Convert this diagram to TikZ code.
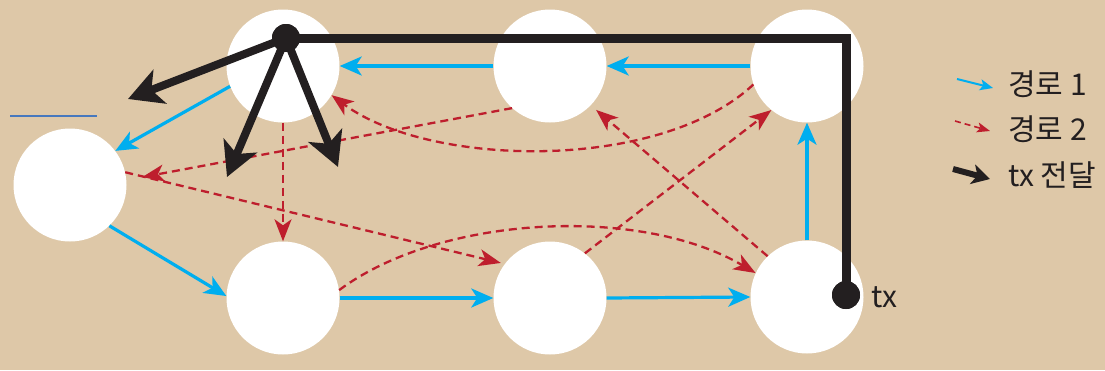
\documentclass[tikz,border=0pt]{standalone}
\usepackage{fontspec}
\newfontfamily\kr{Noto Sans CJK KR}
\usetikzlibrary{arrows.meta}
\definecolor{bg}{RGB}{222,200,168}
\definecolor{pblue}{RGB}{0,174,239}
\definecolor{pred}{RGB}{190,30,45}
\definecolor{pblack}{RGB}{35,31,32}
\definecolor{thinblue}{RGB}{70,120,190}
\begin{document}
\begin{tikzpicture}[x=1pt,y=-1pt,
 station/.style={circle,fill=white,minimum size=113pt,inner sep=0pt},
 path1/.style={pblue,line width=3.2pt,-{Stealth[inset=6pt,length=22pt,width=19pt]}},
 path2/.style={pred,line width=2.3pt,dash pattern=on 8pt off 5pt,-{Stealth[inset=6pt,length=22pt,width=17pt]}},
 txline/.style={pblack,line width=9pt},
 txarrow/.style={pblack,line width=8pt,-{Stealth[inset=9pt,length=34pt,width=36pt]}},
 dot/.style={circle,fill=pblack,minimum size=28pt,inner sep=0pt},
 lbl/.style={font=\kr\fontsize{30}{32}\selectfont,text=pblack,anchor=base west,inner sep=0pt},
 leg1/.style={pblue,line width=2pt,-{Stealth[inset=3pt,length=13pt,width=11pt]}},
 leg2/.style={pred,line width=1.6pt,dash pattern=on 6pt off 4pt,-{Stealth[inset=3pt,length=13pt,width=10pt]}},
 leg3/.style={pblack,line width=6pt,-{Stealth[inset=5pt,length=18pt,width=20pt]}}]
\fill[bg] (0,0) rectangle (1105,370);
\useasboundingbox (0,0) rectangle (1105,370);
% stations
\node[station] (A) at (70,185) {};
\node[station] (B) at (283,66) {};
\node[station] (C) at (550,66) {};
\node[station] (D) at (807,66) {};
\node[station] (E) at (283,298) {};
\node[station] (F) at (550,298) {};
\node[station] (G) at (807,297) {};
% stray thin line
\coordinate (s1) at (10,116);
\coordinate (s2) at (97,116);
\draw[thinblue,line width=1.3pt] (s1) -- (s2);
% path 1
\draw[path1] (G.90) -- (D.270);
\draw[path1] (D.180) -- (C.0);
\draw[path1] (C.180) -- (B.0);
\draw[path1] (B.201) -- (A.37);
\draw[path1] (A.-46) -- (E.178);
\draw[path1] (E.0) -- (F.180);
\draw[path1] (F.0) -- (G.180);
% path 2
\draw[path2] (B.270) -- (E.90);
\draw[path2,shorten >=16pt] (C.228) -- (A.5);
\draw[path2] (D.199) .. controls (660,172) and (430,168) .. (B.329);
\draw[path2,shorten >=7pt] (G.134) -- (C.316);
\draw[path2] (F.52) -- (D.231);
\draw[path2,shorten >=4pt] (A.13) -- (F.143);
\draw[path2] (E.8) .. controls (440,215) and (640,205) .. (G.155);
% tx
\node[dot] (txG) at (846,295) {};
\node[dot] (txB) at (286,38) {};
\coordinate (aL) at (128,99);
\coordinate (aM) at (227,177);
\coordinate (aR) at (338,167);
\draw[txline,line join=miter] (txG.center) |- (txB.center);
\draw[txarrow] (txB.center) -- (aL);
\draw[txarrow] (txB.center) -- (aM);
\draw[txarrow] (txB.center) -- (aR);
\node[dot] at (txG) {};
\node[dot] at (txB) {};
\node[lbl] (txlabel) at (871,307) {tx};
% legend
\coordinate (l1s) at (957,79);
\coordinate (l1e) at (993,88);
\coordinate (l2s) at (955,121);
\coordinate (l2e) at (990,131);
\coordinate (l3s) at (953,169);
\coordinate (l3e) at (990,179);
\draw[leg1] (l1s) -- (l1e);
\draw[leg2] (l2s) -- (l2e);
\draw[leg3] (l3s) -- (l3e);
\node[lbl] (t1) at (1008,95) {경로 1};
\node[lbl] (t2) at (1008,140) {경로 2};
\node[lbl] (t3) at (1008,186) {tx 전달};
\end{tikzpicture}
\end{document}
